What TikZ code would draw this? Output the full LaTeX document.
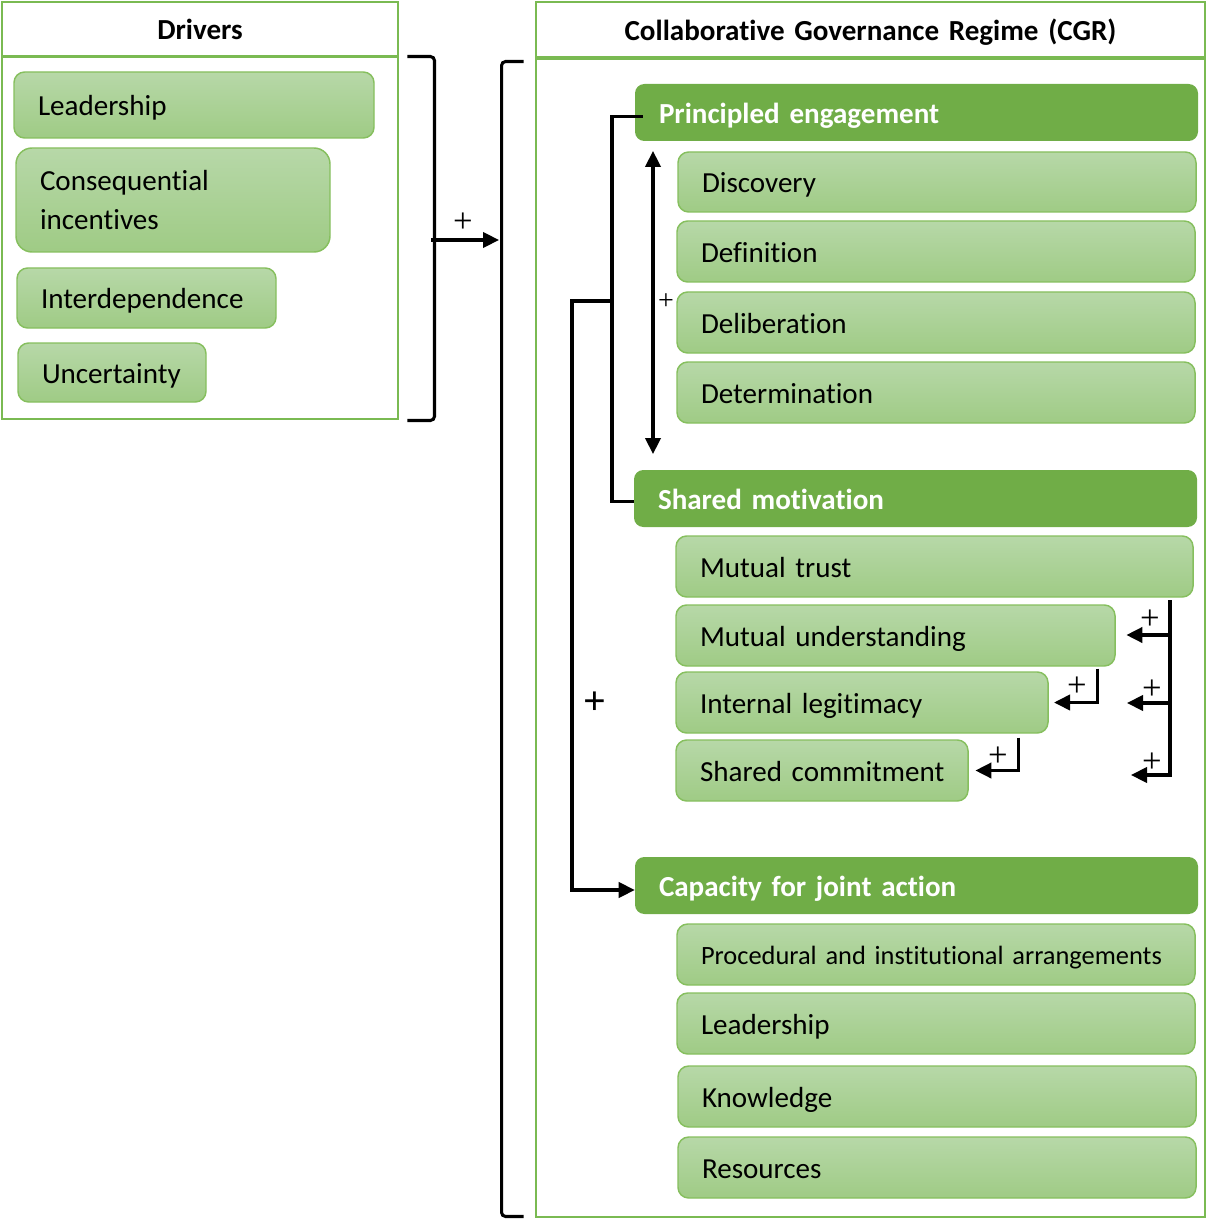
\documentclass[tikz,border=0pt]{standalone}
\usepackage{fontspec}
\setmainfont{Carlito}[RawFeature={-liga}]
\newfontfamily\plusfont{Liberation Serif}
\usetikzlibrary{arrows.meta}
\definecolor{frame}{RGB}{122,186,82}
\definecolor{itemtop}{RGB}{183,216,168}
\definecolor{itembot}{RGB}{159,203,133}
\definecolor{itemline}{RGB}{134,191,94}
\definecolor{headfill}{RGB}{112,173,71}
\begin{document}
\begin{tikzpicture}[x=0.75pt,y=-0.75pt,
  % box placed by its corners (x1,y1) and (x2,y2), in pixel units
  place/.style n args={4}{at={({(#1+#3)/2},{(#2+#4)/2})},
    minimum width={(#3-#1)*0.75pt}, minimum height={(#4-#2)*0.75pt},
    text width={(#3-#1)*0.75pt-36pt}},
  base/.style={inner xsep=18pt, inner ysep=0pt, text height=16.2pt, text depth=0pt,
    font=\fontsize{21.8}{27}\selectfont},
  frame box/.style={base, draw=frame, line width=2.2pt, align=center,
    font=\fontsize{21.8}{27}\selectfont\bfseries},
  item/.style={base, draw=itemline, line width=1.1pt, rounded corners=8pt,
    top color=itemtop, bottom color=itembot, align=left},
  head/.style={base, fill=headfill, rounded corners=7pt, text=white, align=left,
    font=\fontsize{21.8}{27}\selectfont\bfseries},
  link/.style={line width=2.3pt, line cap=rect},
  arrow/.style={link, -{Triangle[length=12pt,width=11.5pt]}},
  biarrow/.style={link, {Triangle[length=12pt,width=11.5pt]}-{Triangle[length=12pt,width=11.5pt]}},
  plus/.style={inner sep=0pt, font=\plusfont\fontsize{26}{26}\selectfont},
]
\useasboundingbox (0,0) rectangle (1207,1219);

% Drivers panel
\node[frame box, place={2}{2}{398}{56}] (dh) {Drivers};
\node[frame box, place={2}{57}{398}{419}] (db) {};
\node[item, place={14}{72}{374}{138}] (d1) {Leadership};
\node[item, rounded corners=12pt, text height=, text depth=,
  font=\fontsize{21.8}{29.5}\selectfont, place={16}{148}{330}{252}] (d2) {Consequential\\incentives};
\node[item, place={17}{268}{276}{328}] (d3) {Interdependence};
\node[item, place={18}{343}{206}{402}] (d4) {Uncertainty};

% CGR panel
\node[frame box, place={536}{2}{1205}{57}] (ch) {Collaborative Governance Regime (CGR)};
\node[frame box, place={536}{59}{1205}{1217}] (cb) {};

\node[head, place={635}{84}{1198}{141}] (pe) {Principled engagement};
\node[item, place={678}{152}{1196}{212}] (pe1) {Discovery};
\node[item, place={677}{221}{1195}{282}] (pe2) {Definition};
\node[item, place={677}{292}{1195}{353}] (pe3) {Deliberation};
\node[item, place={677}{362}{1195}{423}] (pe4) {Determination};

\node[head, place={634}{470}{1197}{527}] (sm) {Shared motivation};
\node[item, place={676}{536}{1193}{597}] (sm1) {Mutual trust};
\node[item, place={676}{605}{1115}{666}] (sm2) {Mutual understanding};
\node[item, place={676}{672}{1048}{733}] (sm3) {Internal legitimacy};
\node[item, place={676}{740}{968}{801}] (sm4) {\mbox{Shared commitment}};

\node[head, place={635}{857}{1198}{914}] (cj) {Capacity for joint action};
\node[item, place={677}{924}{1195}{985}, text height=14.8pt, font=\fontsize{19.8}{24}\selectfont] (cj1) {Procedural and institutional arrangements};
\node[item, place={677}{993}{1195}{1054}] (cj2) {Leadership};
\node[item, place={678}{1066}{1196}{1127}] (cj3) {Knowledge};
\node[item, place={678}{1137}{1196}{1198}] (cj4) {Resources};

% Brackets around the two panels and the link between them
\draw[link, line cap=butt, rounded corners=3pt]
  ([shift={(8,1)}]db.north east) -- ++(27,0) |- ([shift={(8,0)}]db.south east);
\coordinate (drv) at (433,240);
\coordinate (cgr) at (499,240);
\draw[arrow] (drv) -- (cgr);
\node[plus] (p0) at (463,223) {+};
\draw[link, line cap=butt, rounded corners=3pt]
  ([shift={(-11,4)}]cb.north west) -- ++(-22,0) |- ([shift={(-11,-2)}]cb.south west);

% Principled engagement feeding shared motivation and capacity
\coordinate (pebr) at (612,301);
\coordinate (jn) at (572,301);
\draw[link, line cap=butt] ([shift={(8,4)}]pe.west) -| (pebr) |- ([shift={(0,3)}]sm.west);
\draw[arrow] (pebr) -- (jn) |- ([shift={(0,4.5)}]cj.west);
\node[plus, font=\plusfont\fontsize{30}{30}\selectfont\bfseries] (p1) at (595,703) {+};

% Iterative cycle of principled engagement
\coordinate (cyt) at (653,151);
\coordinate (cyb) at (653,454);
\draw[biarrow] (cyt) -- (cyb);
\node[plus, fill=white, inner xsep=1pt, font=\plusfont\fontsize{21}{21}\selectfont] (p2) at (666,302) {+};

% Shared motivation: mutual reinforcement
\coordinate (sp1) at (1170,600);
\coordinate (sp2) at (1170,775);
\coordinate (sp3) at (1131,775);
\coordinate (spa) at (1170,635);
\coordinate (spb) at (1170,703);
\coordinate (spbt) at (1127,703);
\draw[arrow, line cap=butt] (sp1) -- (sp2) -- (sp3);
\draw[arrow] (spa) -- ([xshift=8pt]sm2.east |- spa);
\draw[arrow] (spb) -- (spbt);
\draw[arrow, line cap=butt] ([shift={(-18,2)}]sm2.south east) |- ([xshift=4pt]sm3.east);
\draw[arrow, line cap=butt] ([shift={(-30,4)}]sm3.south east) |- ([xshift=5pt]sm4.east);
\node[plus] (p3) at (1150,620) {+};
\node[plus] (p4) at (1152,690) {+};
\node[plus] (p5) at (1152,763) {+};
\node[plus] (p6) at (1077,687) {+};
\node[plus] (p7) at (998,757) {+};
\end{tikzpicture}
\end{document}
